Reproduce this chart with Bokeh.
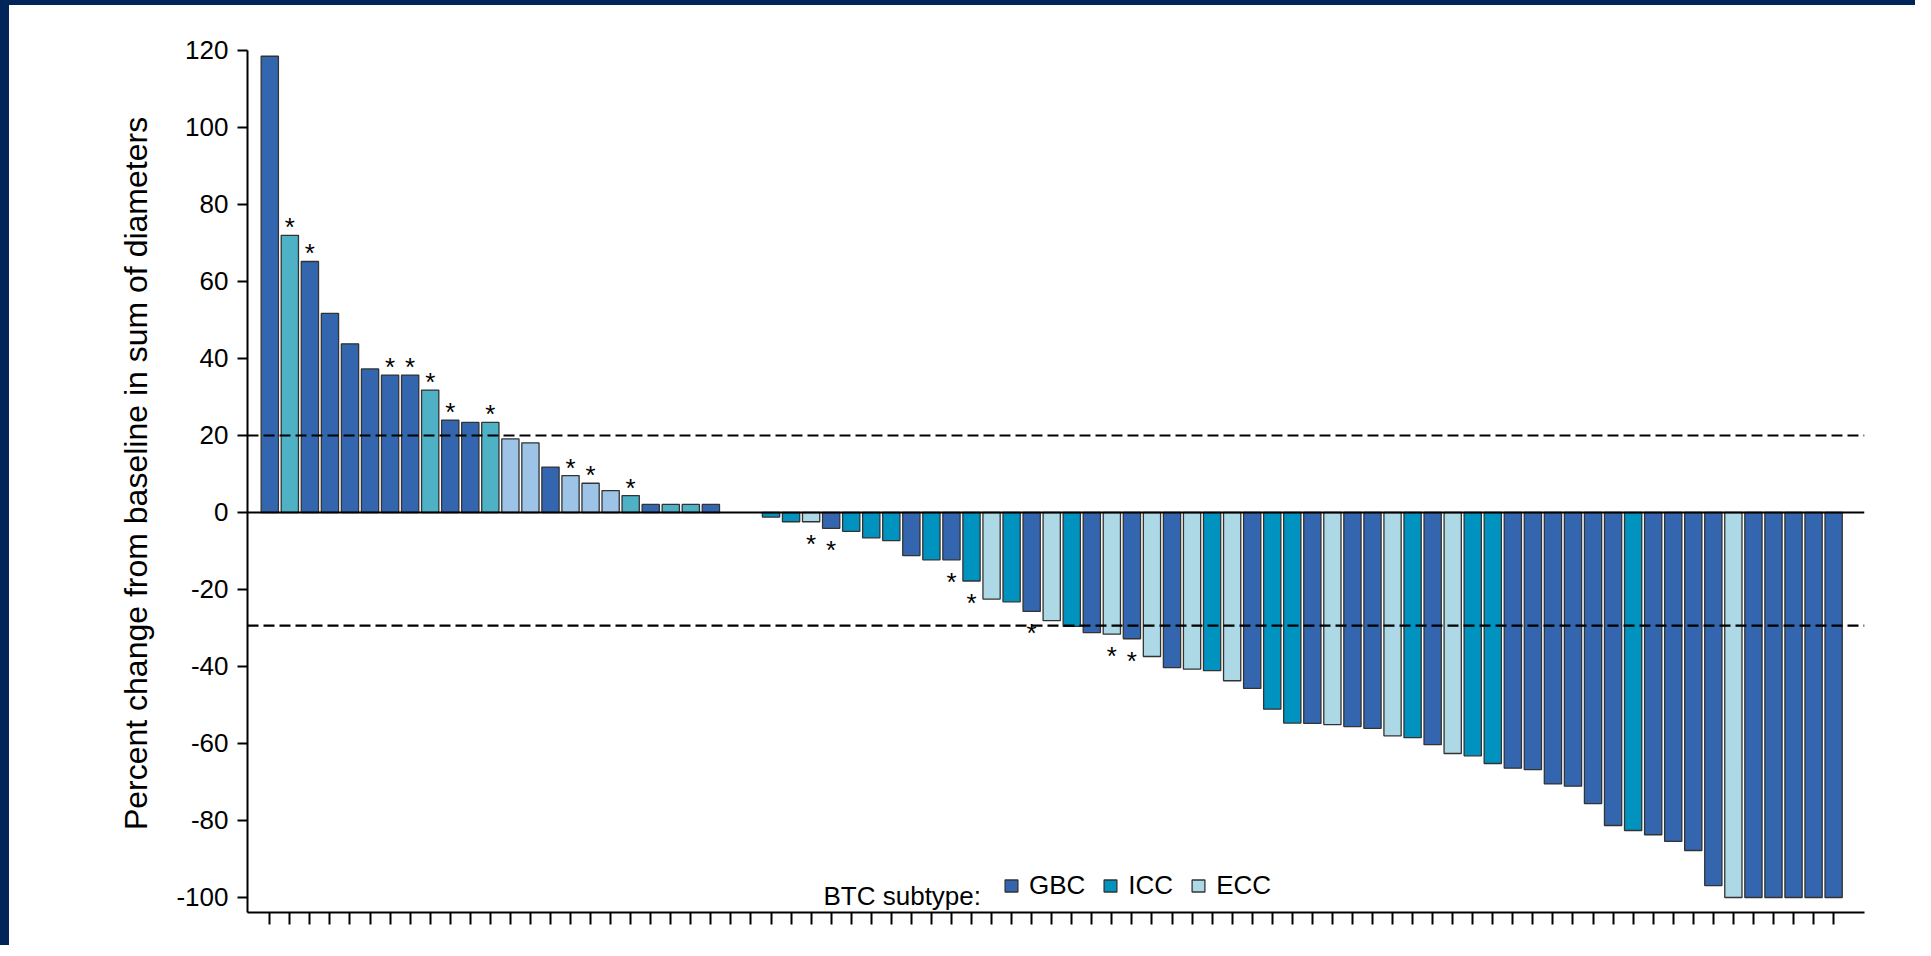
from bokeh.plotting import figure
from bokeh.models import (ColumnDataSource, Range1d, FixedTicker, Span, Legend,
                          LegendItem, Label, CustomJSTickFormatter)
from bokeh.core.properties import value
from bokeh.embed import file_html
from bokeh.resources import INLINE

# ---------------- data ----------------
change = [118.5, 72.0, 65.2, 51.7, 43.8, 37.3, 35.7, 35.7, 31.8, 24.0,
          23.4, 23.4, 19.1, 18.1, 11.8, 9.6, 7.6, 5.7, 4.4, 2.1,
          2.1, 2.1, 2.1, 0.0, 0.0,
          -1.2, -2.4, -2.4, -4.1, -4.9, -6.6, -7.3, -11.2, -12.3, -12.3,
          -17.8, -22.5, -23.2, -25.7, -28.1, -29.6, -31.2, -31.6, -32.8, -37.4,
          -40.3, -40.7, -41.1, -43.7, -45.7, -51.1, -54.7, -54.8, -55.1, -55.6,
          -56.1, -58.0, -58.5, -60.3, -62.6, -63.2, -65.2, -66.4, -66.8, -70.5,
          -71.1, -75.6, -81.3, -82.6, -83.7, -85.4, -87.8, -96.9, -100.0, -100.0,
          -100.0, -100.0, -100.0, -100.0]

subtype = ["GBC", "ICC", "GBC", "GBC", "GBC", "GBC", "GBC", "GBC", "ICC", "GBC",
           "GBC", "ICC", "ECC", "ECC", "GBC", "ECC", "ECC", "ECC", "ICC", "GBC",
           "ICC", "ICC", "GBC", "GBC", "GBC",
           "ICC", "ICC", "ECC", "GBC", "ICC", "ICC", "ICC", "GBC", "ICC", "GBC",
           "ICC", "ECC", "ICC", "GBC", "ECC", "ICC", "GBC", "ECC", "GBC", "ECC",
           "GBC", "ECC", "ICC", "ECC", "GBC", "ICC", "ICC", "GBC", "ECC", "GBC",
           "GBC", "ECC", "ICC", "GBC", "ECC", "ICC", "ICC", "GBC", "GBC", "GBC",
           "GBC", "GBC", "GBC", "ICC", "GBC", "GBC", "GBC", "GBC", "ECC", "GBC",
           "GBC", "GBC", "GBC", "GBC"]

# patients marked with an asterisk (1-based bar number)
marked = [2, 3, 7, 8, 9, 10, 12, 16, 17, 19, 28, 29, 35, 36, 39, 43, 44]

subtypes = ["GBC", "ICC", "ECC"]
y_ticks = [-100, -80, -60, -40, -20, 0, 20, 40, 60, 80, 100, 120]
thresholds = [20, -29.4]
legend_title = "BTC subtype:"
y_label = "Percent change from baseline in sum of diameters"

pos_colors = {"GBC": "#3366ae", "ICC": "#4eb1c5", "ECC": "#9dc3e6"}
neg_colors = {"GBC": "#3366ae", "ICC": "#0093bf", "ECC": "#add8e6"}

FONT = "Liberation Sans"
NAVY = "#01255b"

# ---------------- sources ----------------
pos = list(range(1, len(change) + 1))
bx, btop, bcol, bsub = [], [], [], []
for i, v in enumerate(change):
    if v == 0:
        continue
    bx.append(pos[i])
    btop.append(v)
    bsub.append(subtype[i])
    bcol.append(pos_colors[subtype[i]] if v > 0 else neg_colors[subtype[i]])
bars_src = ColumnDataSource(dict(x=bx, top=btop, color=bcol, sub=bsub))

ap_x = [m for m in marked if change[m - 1] > 0]
ap_y = [change[m - 1] for m in marked if change[m - 1] > 0]
an_x = [m for m in marked if change[m - 1] < 0]
an_y = [change[m - 1] for m in marked if change[m - 1] < 0]
ast_pos = ColumnDataSource(dict(x=ap_x, y=ap_y, t=["*"] * len(ap_x)))
ast_neg = ColumnDataSource(dict(x=an_x, y=an_y, t=["*"] * len(an_x)))

# ---------------- figure ----------------
W, H = 1915, 945
Y_TOP = 120 + 16 / 3.85   # frame extends a little above the axis line
p = figure(width=W, height=H,
           x_range=Range1d(-0.112, 80.54), y_range=Range1d(-103.9, Y_TOP),
           output_backend="svg", toolbar_location=None,
           min_border_left=247, min_border_right=W - 1864,
           min_border_top=34, min_border_bottom=H - 912)
p.border_fill_color = None
p.background_fill_color = "white"
p.outline_line_color = None
p.xgrid.visible = False
p.ygrid.visible = False
p.styles = {
    "background": ("linear-gradient(to right, %s 0px, %s 9px, transparent 9px), "
                   "linear-gradient(to bottom, %s 0px, %s 5px, #ffffff 5px)")
                  % (NAVY, NAVY, NAVY, NAVY),
}

bars = p.vbar(x="x", top="top", bottom=0, width=0.86, source=bars_src,
              fill_color="color", line_color="#333333", line_width=1.3)

# asterisks
p.text(x="x", y="y", text="t", source=ast_pos, text_align="center",
       text_baseline="alphabetic", y_offset=-8, text_font=value(FONT),
       text_font_size="26px", text_color="black")
p.text(x="x", y="y", text="t", source=ast_neg, text_align="center",
       text_baseline="alphabetic", y_offset=22, text_font=value(FONT),
       text_font_size="26px", text_color="black")

# zero line and thresholds
p.add_layout(Span(location=0, dimension="width", line_color="black", line_width=2.2))
for t in thresholds:
    p.add_layout(Span(location=t, dimension="width", line_color="black",
                      line_width=2.2, line_dash="11 5"))

# axes
p.yaxis.ticker = FixedTicker(ticks=y_ticks)
p.yaxis.bounds = (-103.9, 120)
p.yaxis.formatter = CustomJSTickFormatter(code="return tick.toFixed(0)")
p.yaxis.axis_label = y_label
p.yaxis.axis_label_text_font = FONT
p.yaxis.axis_label_text_font_size = "32px"
p.yaxis.axis_label_text_font_style = "normal"
p.yaxis.axis_label_text_color = "black"
p.yaxis.axis_label_standoff = 19
p.yaxis.major_label_text_font = FONT
p.yaxis.major_label_text_font_size = "26px"
p.yaxis.major_label_text_color = "black"
p.yaxis.major_label_standoff = 9
p.yaxis.major_tick_out = 10
p.yaxis.major_tick_in = 0
p.yaxis.minor_tick_out = 0
p.yaxis.minor_tick_in = 0
p.yaxis.axis_line_width = 2
p.yaxis.major_tick_line_width = 2
p.yaxis.axis_line_color = "black"

p.xaxis.ticker = FixedTicker(ticks=pos)
p.xaxis.formatter = CustomJSTickFormatter(code="return ''")
p.xaxis.major_label_text_font_size = "1px"
p.xaxis.major_label_standoff = 0
p.xaxis.major_tick_out = 12
p.xaxis.major_tick_in = 0
p.xaxis.minor_tick_out = 0
p.xaxis.minor_tick_in = 0
p.xaxis.axis_line_width = 2
p.xaxis.major_tick_line_width = 2
p.xaxis.axis_line_color = "black"

# legend
items = []
for s in subtypes:
    idx = next(k for k in range(len(bx)) if bsub[k] == s and btop[k] < 0)
    items.append(LegendItem(label=value(s), renderers=[bars], index=idx))
legend = Legend(items=items, orientation="horizontal", location=(756, 11),
                glyph_width=16, glyph_height=15, label_standoff=10, spacing=17,
                padding=0, margin=0, border_line_color=None,
                background_fill_alpha=0, label_text_font=FONT,
                label_text_font_size="26px", label_text_color="black")
p.add_layout(legend)

p.add_layout(Label(x=576, y=17, x_units="screen", y_units="screen",
                   text=legend_title, text_font=FONT, text_font_size="26px",
                   text_color="black", text_baseline="alphabetic"))

open("out.html", "w").write(file_html(p, INLINE))
